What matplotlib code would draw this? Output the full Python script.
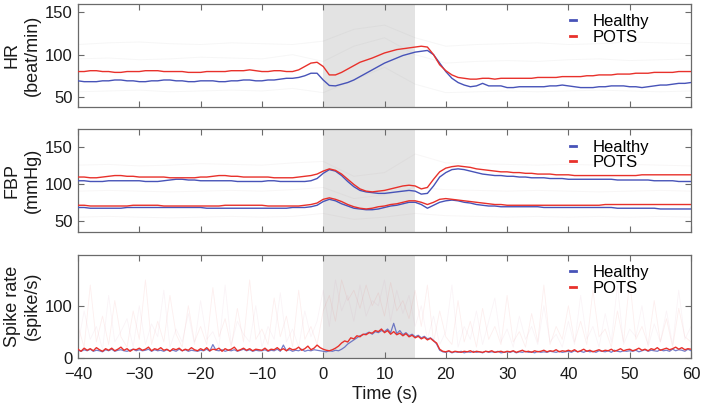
import numpy as np
import matplotlib
matplotlib.use("Agg")
import matplotlib.pyplot as plt
from matplotlib.lines import Line2D

plt.rcParams['font.family'] = ['Liberation Sans', 'DejaVu Sans']

# ---------------- data ----------------
t1 = np.arange(-40, 61, 1)          # 1-s grid
t5 = np.arange(-40, 61, 5)          # 5-s grid
th = np.arange(-40, 60.5, 0.5)      # 0.5-s grid

hr_pots = ([80,80,81,81,80,80,79,79,80,80,80,81,81,81,80,80,80,80,79,79,79,80,80,80,80,81,81,81,82,81,80,80,81,81,80,80]
           + [82,86,90,91]
           + [86,76,76,79,83,87,91,93.5,96,99,102,104,106,107,108,109]
           + [110,109,100,88,81,76,73,72,71,71]
           + [72,72,71,72,72,72,72,72,72,73,73,73,73,74,74,74,74,75,75,76,76,76,77,77,77,78,78,78,79,79,79,79,80,80,80])
hr_healthy = ([69,68,68,68,69,69,70,70,69,69,68,68,69,69,70,70,69,69,68,68,69,69,69,68,68,69,69,70,70,69,69,70,70,71,72,72]
              + [73,75,78,78]
              + [70,63.5,63,65,67,70,74,78,82,86,90,93,96,99,101,103]
              + [104,105,100,90,80,72,67,64,62,63]
              + [66,63,63,63,61,61,62,62,62,62,62,63,63,64,63,62,61,61,61,62,62,63,63,63,62,62,61,62,63,64,64,65,66,66,67])

sbp_pots = ([109,109,108,108,109,110,111,111,110,110,109,109,109,109,109,108,108,108,108,108,109,109,110,111,111,110,110,109,109,109,109,109,108,108,108,108,109]
            + [110,111,113]
            + [117,120,118,113,106,99,93,90,89,90,91,93,95,97,98,97]
            + [93,95,106,116,121,123,124,123,122,120]
            + [119,118,117,116,116,115,115,114,114,113,113,113,112,112,112,111,111,111,111,111,111,111,111,111,111,111,112,112,112,112,112,112,112,112,112])
sbp_healthy = ([104,104,103,103,103,104,104,104,104,104,104,103,103,103,104,105,106,106,105,105,104,104,104,104,104,104,103,103,103,103,103,104,104,103,103,103,103]
               + [103,104,107]
               + [114,119,117,111,103,96,91,89,88,87,87,88,89,90,91,90]
               + [86,87,97,109,115,119,120,119,117,115]
               + [113,112,111,111,110,110,109,109,108,108,108,107,107,107,106,106,106,106,106,106,106,106,105,105,105,105,105,105,104,104,104,104,103,103,103])
dbp_pots = ([71,71,70,70,70,70,70,70,70,71,71,71,71,71,70,70,70,70,70,70,70,70,70,70,71,71,71,71,71,71,71,70,70,70,70,70,70]
            + [71,72,74]
            + [79,81,79,76,72,69,67,66,67,69,70,72,73,75,77,77]
            + [75,72,75,79,80,79,78,77,76,75]
            + [74,73,72,72,71,71,71,71,71,71,71,71,71,71,71,71,71,71,71,71,72,72,72,72,72,72,72,72,72,72,72,72,72,72,72])
dbp_healthy = ([68,68,67,67,67,67,67,67,68,68,68,68,68,68,68,68,68,68,68,68,68,67,67,67,67,67,67,67,67,67,67,67,67,67,67,68,68]
               + [68,69,71]
               + [76,79,77,73,70,67,66,65,65,66,68,70,71,73,75,75]
               + [72,67,71,75,77,78,77,75,74,72]
               + [71,70,70,69,69,69,69,69,69,69,68,68,68,68,68,68,68,68,68,68,68,68,67,67,67,67,67,67,67,66,66,66,66,66,66])

spike_pots = ([16,12,18,14,17,13,19,15,12,17,14,18,13,16,20,14,17,12,16,15]
              + [18,14,16,20,13,17,15,19,14,16,12,17,15,18,13,16,14,19,15,13]
              + [17,14,19,13,16,15,18,12,17,14,16,20,13,15,18,14,17,13,16,15]
              + [14,18,13,16,15,19,14,17,13,18,15,16,20,14,17,22,15,18,24,19]
              + [16,14,13,15,18,22,28,32,30,38,36,42,40,45,44,48,47,52,50,55]
              + [48,52,45,50,44,47,42,46,40,43,38,41,36,39,34,37,32,28,16,12]
              + [11,13,10,12,11,10,12,11,13,10,12,11,10,12,11,13,10,11,12,10]
              + [12,11,13,10,12,14,11,12,10,13,11,12,14,11,13,12,15,11,13,12]
              + [14,12,15,11,13,16,12,14,11,13,15,12,14,13,16,12,14,17,13,15]
              + [16,13,15,18,14,16,13,17,15,19,14,16,18,15,17,20,16,19,15,17]
              + [16])
spike_healthy = ([14,12,15,13,16,12,14,13,11,15,13,16,12,14,15,13,12,14,16,13]
                 + [15,13,14,16,12,15,13,14,12,15,13,14,12,16,13,15,12,14,13,12]
                 + [14,13,16,12,25,14,13,15,12,14,13,15,12,14,16,13,15,12,14,13]
                 + [13,15,12,14,13,16,12,24,13,15,12,14,13,16,12,14,13,15,14,13]
                 + [12,11,13,12,14,13,16,20,26,30,34,38,42,44,46,49,45,50,48,52]
                 + [50,55,48,66,46,52,44,48,42,45,40,43,38,41,36,38,33,26,14,11]
                 + [10,12,9,11,10,12,9,11,10,12,10,11,9,12,10,11,10,12,9,10]
                 + [11,10,12,9,11,10,12,10,11,9,12,10,11,10,12,11,10,12,10,11]
                 + [12,10,13,11,12,10,13,11,12,10,13,12,11,13,10,14,12,11,13,12]
                 + [13,12,14,11,13,15,12,14,13,12,15,13,14,12,16,13,15,14,12,16]
                 + [13])

# faint individual-subject traces (5-s grid for HR/FBP, 1-s grid for spike rate)
hr_faint = [
    [112,114,115,113,112,114,113,112,116,130,135,120,110,112,113,114,112,113,115,114,113],
    [56,57,58,56,57,58,57,60,55,70,85,65,55,56,57,56,57,58,57,56,57],
    [95,96,94,95,97,96,95,100,92,110,120,100,90,92,93,92,94,95,93,94,95],
]
fbp_faint = [
    [125,126,124,125,127,126,125,128,130,110,115,140,128,127,126,125,126,125,126,125,124],
    [55,56,55,54,55,56,55,56,60,52,55,60,57,56,55,56,55,56,55,56,55],
    [90,91,90,89,90,91,90,92,95,80,85,95,92,91,90,91,90,89,90,91,90],
]
spike_faint = [
    [60,20,140,30,80,25,110,40,20,90,35,150,25,70,30,120,45,20,100,30,
     60,25,135,40,75,20,95,30,150,35,55,25,115,40,80,20,130,35,60,25,
     90,120,70,150,110,130,95,140,100,125,80,145,90,110,75,130,60,140,30,90,
     40,25,110,30,70,20,95,35,60,25,120,30,50,20,85,30,140,25,60,35,
     100,30,70,25,130,40,55,20,90,30,150,35,60,25,110,30,75,20,95,40,30],
    [25,90,35,60,15,120,30,50,75,20,100,25,65,40,130,20,55,30,85,25,
     110,35,50,20,140,25,70,45,30,100,20,60,35,125,30,55,20,90,40,70,
     130,60,150,90,120,70,140,80,110,100,150,70,130,85,120,60,100,35,80,25,
     50,140,20,60,35,90,25,70,115,30,55,20,80,35,60,25,100,30,45,20,
     70,25,120,35,60,20,85,30,140,25,55,40,100,20,65,30,90,25,130,35,60],
]

hr_ticks = [50, 100, 150]
fbp_ticks = [50, 100, 150]
spike_ticks = [0, 100]
x_ticks = [-40, -30, -20, -10, 0, 10, 20, 30, 40, 50, 60]
stim_start, stim_end = 0, 15
labels = ['Healthy', 'POTS']

# ---------------- style ----------------
RED = '#e8312b'
BLUE = '#4753b8'
SHADE = '#e3e3e3'
SPINE = '#6a6a6a'
TXT = '#1a1a1a'

fig = plt.figure(figsize=(7.08, 4.09), dpi=100)
L, W = 78/708, (691-78)/708
pos = [(4, 107), (129.5, 232), (255, 357.5)]
axes = [fig.add_axes([L, 1-b/409, W, (b-t)/409]) for t, b in pos]

def style(ax, yt, ylim, lab1, lab2):
    ax.set_xlim(-40, 60)
    ax.set_ylim(*ylim)
    ax.set_yticks(yt)
    ax.set_xticks(x_ticks)
    ax.tick_params(direction='in', length=4, width=0.8, top=True, right=True,
                   labelsize=12, colors=SPINE, labelcolor=TXT, pad=4)
    ax.tick_params(axis='x', pad=6.5)
    for s in ax.spines.values():
        s.set_color(SPINE)
        s.set_linewidth(0.9)
    ax.axvspan(stim_start, stim_end, color=SHADE, zorder=0, lw=0)
    ax.set_ylabel(lab1 + '\n' + lab2, fontsize=13, color=TXT, labelpad=3, linespacing=1.2)
    h = [Line2D([], [], color=BLUE, lw=2), Line2D([], [], color=RED, lw=2)]
    ax.legend(h, labels, loc='upper left', bbox_to_anchor=(0.803, 0.90), frameon=False,
              handlelength=0.35, handletextpad=1.0, fontsize=12, labelspacing=0.02,
              borderpad=0, borderaxespad=0)

# HR
ax = axes[0]
for f in hr_faint:
    ax.plot(t5, f, color='#888888', alpha=0.07, lw=0.7, zorder=1)
ax.plot(t1, hr_healthy, color=BLUE, lw=1.0, zorder=3)
ax.plot(t1, hr_pots, color=RED, lw=1.0, zorder=3)
style(ax, hr_ticks, (38, 160), 'HR', '(beat/min)')
ax.tick_params(labelbottom=False)

# FBP
ax = axes[1]
for f in fbp_faint:
    ax.plot(t5, f, color='#a08888', alpha=0.07, lw=0.7, zorder=1)
ax.plot(t1, sbp_healthy, color=BLUE, lw=1.0, zorder=3)
ax.plot(t1, dbp_healthy, color=BLUE, lw=1.0, zorder=3)
ax.plot(t1, sbp_pots, color=RED, lw=1.0, zorder=3)
ax.plot(t1, dbp_pots, color=RED, lw=1.0, zorder=3)
style(ax, fbp_ticks, (35, 173), 'FBP', '(mmHg)')
ax.tick_params(labelbottom=False)

# Spike rate
ax = axes[2]
ax.plot(t1, spike_faint[0], color=RED, alpha=0.08, lw=0.6, zorder=1)
ax.plot(t1, spike_faint[1], color='#c06090', alpha=0.07, lw=0.6, zorder=1)
ax.plot(th, spike_healthy, color=BLUE, lw=0.9, alpha=0.75, zorder=3)
ax.plot(th, spike_pots, color=RED, lw=1.0, zorder=4)
style(ax, spike_ticks, (0, 198), 'Spike rate', '(spike/s)')
ax.set_xlabel('Time (s)', fontsize=13, color=TXT, labelpad=3)

fig.savefig('out.png', dpi=100)
